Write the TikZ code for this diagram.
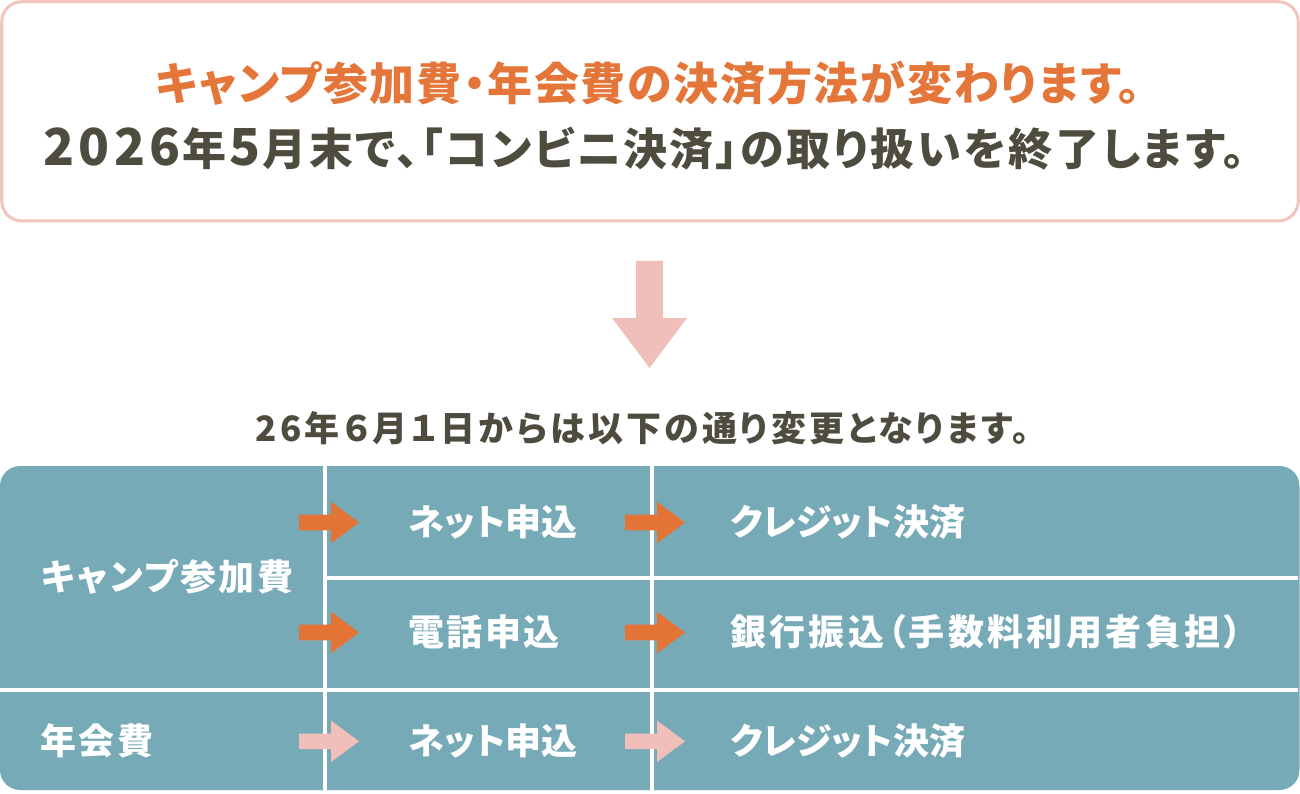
\documentclass[tikz,border=0pt]{standalone}
\usepackage{fontspec}
\newfontfamily\titleA{Noto Sans CJK JP}[RawFeature=+palt,LetterSpace=3.8]
\newfontfamily\titleB{Noto Sans CJK JP}[RawFeature=+palt,LetterSpace=6]
\newfontfamily\subfont{Noto Sans CJK JP}[RawFeature=+palt,LetterSpace=9]
\newfontfamily\cellfont{Noto Sans CJK JP}[RawFeature=+palt,LetterSpace=7]
\newfontfamily\cellkana{Noto Sans CJK JP}[RawFeature=+palt,LetterSpace=0.8]
\newfontfamily\cellwide{Noto Sans CJK JP}[RawFeature=+palt,LetterSpace=9.3]
\definecolor{txtorange}{HTML}{E5763A}
\definecolor{txtdark}{HTML}{4E4B3F}
\definecolor{tablebg}{HTML}{77AAB7}
\definecolor{arrpink}{HTML}{F0BFBA}
\definecolor{boxpink}{HTML}{F2C4BE}
\definecolor{arrorange}{HTML}{E37436}
\newcommand\rarrow[3]{\fill[#3, shift={(#1,#2)}] (0,-7.8) -- (32,-7.8) -- (32,-20.8) -- (60,0) -- (32,20.8) -- (32,7.8) -- (0,7.8) -- cycle;}
\newcommand\dg[1]{\makebox[35.5pt]{\fontsize{51}{50}\selectfont #1}}
\begin{document}
\begin{tikzpicture}[x=1pt,y=-1pt,
  celltext/.style={anchor=base west, inner sep=0pt, text=white, font=\cellfont\bfseries\fontsize{36}{40}\selectfont},
  kanatext/.style={celltext, font=\cellkana\bfseries\fontsize{36}{40}\selectfont},
  widetext/.style={celltext, font=\cellwide\bfseries\fontsize{36}{40}\selectfont},
  sep/.style={draw=white, line width=3.5pt}]
\useasboundingbox (0,0) rectangle (1300,794);
% top notice box
\draw[boxpink, line width=3pt, rounded corners=20pt, fill=white] (1.75,1.75) rectangle (1298.25,221);
\node[anchor=base, inner sep=0pt, text=txtorange, font=\titleA\bfseries\fontsize{45}{50}\selectfont] (l1) at (648,101) {キャンプ参加費・年会費の決済方法が変わります。};
\node[anchor=base, inner sep=0pt, text=txtdark, font=\titleB\bfseries\fontsize{44}{50}\selectfont] (l2) at (643,165.7) {\dg{2}\dg{0}\dg{2}\dg{6}年\dg{5}月末で、「コンビニ決済」の取り扱いを終了します。};
% down arrow
\fill[arrpink] (636,261) -- (663,261) -- (663,318) -- (687,318) -- (649.5,368) -- (612,318) -- (636,318) -- cycle;
% subtitle
\node[anchor=base, inner sep=0pt, text=txtdark, font=\subfont\bfseries\fontsize{35}{40}\selectfont] (sub) at (643,441) {26年６月１日からは以下の通り変更となります。};
% table
\fill[tablebg, rounded corners=20pt] (0,466) rectangle (1299.5,790);
\draw[sep] (325,466) -- (325,790);
\draw[sep] (652,466) -- (652,790);
\draw[sep] (325,578) -- (1298,578);
\draw[sep] (0,690) -- (1298,690);
\rarrow{299}{522.5}{arrorange}
\rarrow{625}{522.5}{arrorange}
\rarrow{299}{632.5}{arrorange}
\rarrow{625}{632.5}{arrorange}
\rarrow{299}{741.3}{arrpink}
\rarrow{625}{741.3}{arrpink}
\node[celltext] (camp) at (41,590.7) {キャンプ参加費};
\node[celltext] (annual) at (40,754.7) {年会費};
\node[kanatext] (net1) at (408,535.7) {ネット申込};
\node[celltext] (tel) at (408,645.7) {電話申込};
\node[kanatext] (net2) at (408,754.7) {ネット申込};
\node[kanatext] (card1) at (730,535.7) {クレジット決済};
\node[widetext] (bank) at (730,645.7) {銀行振込（手数料利用者負担）};
\node[kanatext] (card2) at (730,754.7) {クレジット決済};
\end{tikzpicture}
\end{document}
